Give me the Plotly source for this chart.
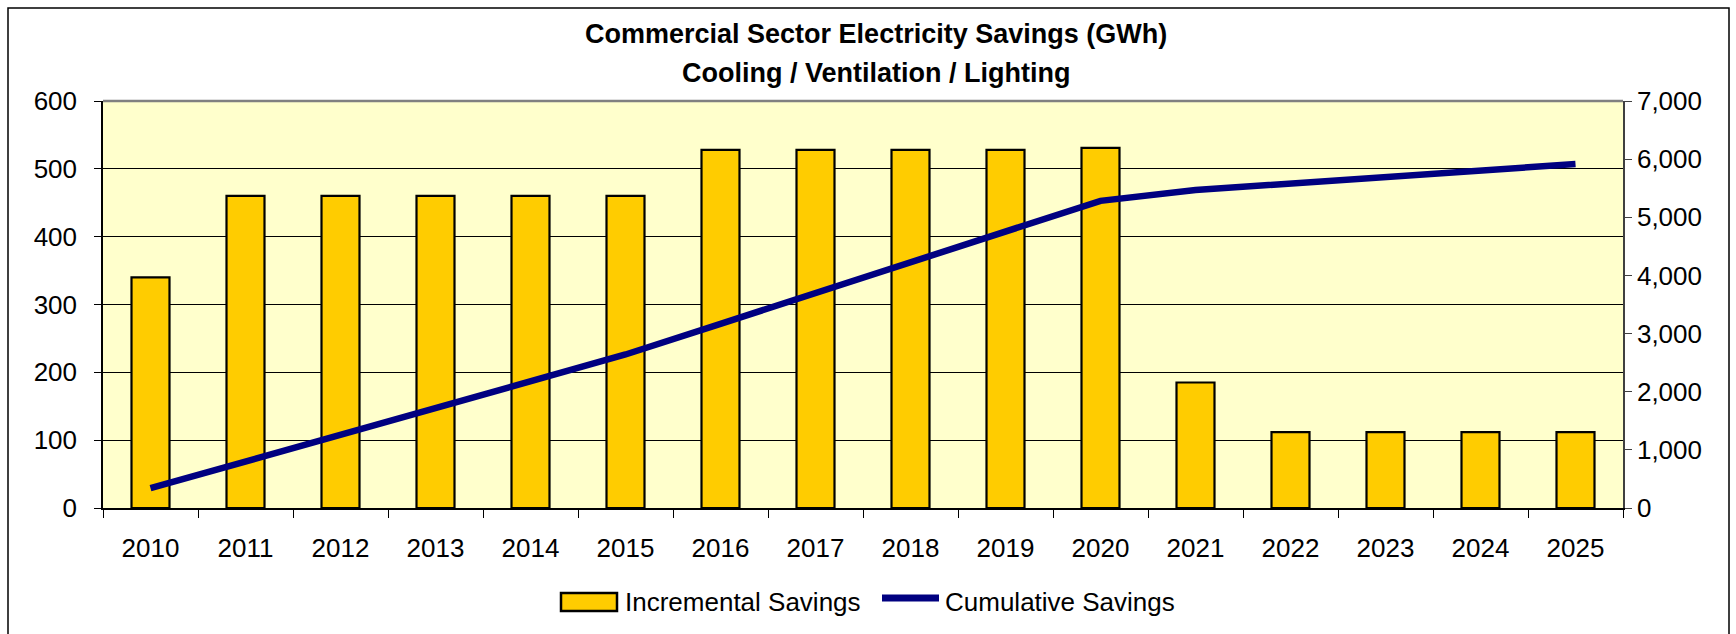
import plotly.graph_objects as go

years = [str(y) for y in range(2010, 2026)]
incremental = [340, 460, 460, 460, 460, 460, 528, 528, 528, 528, 531, 185, 112, 112, 112, 112]
cumulative = [340, 800, 1260, 1720, 2180, 2640, 3168, 3696, 4224, 4752, 5283, 5468, 5580, 5692, 5804, 5916]

FONT = "Liberation Sans, Arial, sans-serif"
W, H = 1736, 634
L, R, T, B = 103, 1623, 101, 508

def px(x):
    return (x - L) / (R - L)

def py(y):
    return (B - y) / (B - T)

BAR_COLOR = "#FFCC00"
LINE_COLOR = "#000080"

fig = go.Figure()
fig.add_trace(go.Bar(
    x=years, y=incremental, name="Incremental Savings",
    marker=dict(color=BAR_COLOR, line=dict(color="black", width=2.2)),
    width=0.4, showlegend=False,
))
fig.add_trace(go.Scatter(
    x=years, y=cumulative, name="Cumulative Savings", yaxis="y2",
    mode="lines", line=dict(color=LINE_COLOR, width=6.5), showlegend=False,
))

fig.update_layout(
    width=W, height=H,
    margin=dict(l=L, r=W - R, t=T, b=H - B),
    paper_bgcolor="white",
    plot_bgcolor="#FFFFCC",
    font=dict(family=FONT, size=26, color="black"),
    showlegend=False,
    bargap=0.6,
    xaxis=dict(
        type="category", showgrid=False, ticks="outside", tickson="boundaries",
        ticklen=8, tickcolor="black", showline=True, linecolor="black", linewidth=1.5,
        tickfont=dict(size=26), zeroline=False, ticklabelstandoff=16,
    ),
    yaxis=dict(
        range=[0, 600], dtick=100, showgrid=True, gridcolor="black", gridwidth=1,
        ticks="outside", ticklen=7, tickcolor="black", showline=True, linecolor="black",
        linewidth=1.5, zeroline=False, tickfont=dict(size=26), ticklabelstandoff=12,
    ),
    yaxis2=dict(
        range=[0, 7000], dtick=1000, overlaying="y", side="right", showgrid=False,
        tickformat=",", ticks="outside", ticklen=7, tickcolor="#404040", showline=True,
        linecolor="#404040", linewidth=1.5, zeroline=False, tickfont=dict(size=26),
    ),
    annotations=[
        dict(text="<b>Commercial Sector Electricity Savings (GWh)</b>", x=px(876), y=py(34),
             xref="paper", yref="paper", showarrow=False, font=dict(size=27), xanchor="center", yanchor="middle"),
        dict(text="<b>Cooling / Ventilation / Lighting</b>", x=px(876), y=py(73),
             xref="paper", yref="paper", showarrow=False, font=dict(size=27), xanchor="center", yanchor="middle"),
        dict(text="Incremental Savings", x=px(623), y=py(602), xref="paper", yref="paper",
             showarrow=False, font=dict(size=26), xanchor="left", yanchor="middle"),
        dict(text="Cumulative Savings", x=px(943), y=py(602), xref="paper", yref="paper",
             showarrow=False, font=dict(size=26), xanchor="left", yanchor="middle"),
    ],
    shapes=[
        dict(type="rect", xref="paper", yref="paper", x0=px(8), x1=px(1729), y0=py(8), y1=py(660),
             line=dict(color="black", width=1.5), fillcolor="rgba(0,0,0,0)", layer="below"),
        dict(type="line", xref="paper", yref="paper", x0=0, x1=1, y0=1, y1=1,
             line=dict(color="#808080", width=2.5)),
        dict(type="rect", xref="paper", yref="paper", x0=px(561), x1=px(617), y0=py(593), y1=py(611),
             line=dict(color="black", width=2.5), fillcolor=BAR_COLOR),
        dict(type="line", xref="paper", yref="paper", x0=px(882), x1=px(939), y0=py(598), y1=py(598),
             line=dict(color=LINE_COLOR, width=7)),
    ],
)

fig.write_html("out.html")
